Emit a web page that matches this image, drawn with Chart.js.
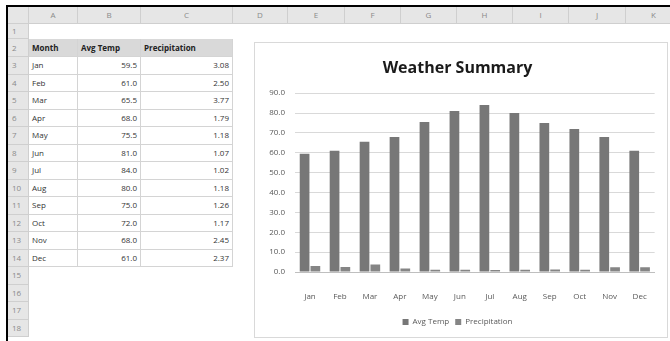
<!DOCTYPE html>
<html>
<head>
<meta charset="utf-8">
<script src="https://cdn.jsdelivr.net/npm/chart.js@4"></script>
<style>
  body { margin: 0; width: 670px; height: 341px; background: #fff; overflow: hidden; position: relative; font-family: "Open Sans", sans-serif; }
  .cell { position: absolute; box-sizing: border-box; font-size: 8px; line-height: 1; display: flex; align-items: center; white-space: nowrap; overflow: hidden; color: #333; }
  .hdr { background: #e6e6e6; color: #8a8a8a; border-right: 1px solid #cfcfcf; border-bottom: 1px solid #cfcfcf; justify-content: center; }
  .rowhdr { justify-content: flex-start; padding-left: 4px; }
  .tbl { border-right: 1px solid #d4d4d4; border-bottom: 1px solid #d4d4d4; padding: 0 3px; }
  .tbl.head { background: #d9d9d9; font-weight: bold; color: #222; }
  .num { justify-content: flex-end; }
  #frameTop { position: absolute; left: 6px; top: 5px; width: 664px; height: 2px; background: #000; }
  #frameLeft { position: absolute; left: 6px; top: 5px; width: 2px; height: 336px; background: #000; }
  #chartBox { position: absolute; left: 254px; top: 42px; width: 414px; height: 296px; box-sizing: border-box; border: 1px solid #d9d9d9; background: #fff; }
  #chartBox canvas { position: absolute; left: 0; top: 0; }
</style>
</head>
<body>
<div id="sheet"></div>
<div id="frameTop"></div>
<div id="frameLeft"></div>
<div id="chartBox"><canvas id="weatherChart" width="412" height="294"></canvas></div>
<script>
  // chart data
  const months = ['Jan', 'Feb', 'Mar', 'Apr', 'May', 'Jun', 'Jul', 'Aug', 'Sep', 'Oct', 'Nov', 'Dec'];
  const avgTemp = [59.5, 61.0, 65.5, 68.0, 75.5, 81.0, 84.0, 80.0, 75.0, 72.0, 68.0, 61.0];
  const precipitation = [3.08, 2.50, 3.77, 1.79, 1.18, 1.07, 1.02, 1.18, 1.26, 1.17, 2.45, 2.37];
  const yTicks = [0, 10, 20, 30, 40, 50, 60, 70, 80, 90];

  // spreadsheet grid
  const colEdges = [8, 29, 78, 141, 233, 288, 345, 401, 457, 513, 569, 626, 682];
  const colNames = ['', 'A', 'B', 'C', 'D', 'E', 'F', 'G', 'H', 'I', 'J', 'K'];
  const rowEdges = [7, 24, 39, 57];
  for (let i = 0; i < 16; i++) rowEdges.push(57 + 17.5 * (i + 1));

  const sheet = document.getElementById('sheet');
  function addCell(x0, x1, y0, y1, cls, text) {
    const d = document.createElement('div');
    d.className = 'cell ' + cls;
    d.style.left = x0 + 'px';
    d.style.top = y0 + 'px';
    d.style.width = (x1 - x0) + 'px';
    d.style.height = (y1 - y0) + 'px';
    d.textContent = text;
    sheet.appendChild(d);
  }

  // column headers
  for (let c = 0; c < colNames.length; c++) {
    addCell(colEdges[c], colEdges[c + 1], rowEdges[0], rowEdges[1], 'hdr', colNames[c]);
  }
  // row headers
  for (let r = 1; r < rowEdges.length - 1; r++) {
    addCell(colEdges[0], colEdges[1], rowEdges[r], rowEdges[r + 1], 'hdr rowhdr', String(r));
  }

  // data table A2:C14
  const heads = ['Month', 'Avg Temp', 'Precipitation'];
  heads.forEach((h, c) => addCell(colEdges[c + 1], colEdges[c + 2], rowEdges[2], rowEdges[3], 'tbl head', h));
  months.forEach((m, i) => {
    const y0 = rowEdges[i + 3], y1 = rowEdges[i + 4];
    addCell(colEdges[1], colEdges[2], y0, y1, 'tbl', m);
    addCell(colEdges[2], colEdges[3], y0, y1, 'tbl num', avgTemp[i].toFixed(1));
    addCell(colEdges[3], colEdges[4], y0, y1, 'tbl num', precipitation[i].toFixed(2));
  });

  // chart
  const ctx = document.getElementById('weatherChart').getContext('2d');
  new Chart(ctx, {
    type: 'bar',
    data: {
      labels: months,
      datasets: [
        { label: 'Avg Temp', data: avgTemp, backgroundColor: '#777777', barPercentage: 0.9, categoryPercentage: 0.72 },
        { label: 'Precipitation', data: precipitation, backgroundColor: '#858585', barPercentage: 0.9, categoryPercentage: 0.72 }
      ]
    },
    options: {
      responsive: false,
      animation: false,
      layout: { padding: { top: 16, left: 0, right: 7, bottom: 1 } },
      plugins: {
        title: {
          display: true,
          text: 'Weather Summary',
          color: '#1a1a1a',
          font: { family: 'Open Sans', size: 16, weight: 'bold' },
          padding: { top: 0, bottom: 15 }
        },
        legend: {
          position: 'bottom',
          labels: {
            boxWidth: 6,
            boxHeight: 6,
            padding: 6,
            color: '#595959',
            font: { family: 'Open Sans', size: 8 }
          }
        },
        tooltip: { enabled: false }
      },
      scales: {
        x: {
          afterFit: (scale) => { scale.height = 40; },
          grid: { display: false, drawTicks: false },
          border: { color: '#bfbfbf' },
          ticks: { color: '#595959', padding: 20, font: { family: 'Open Sans', size: 8 } }
        },
        y: {
          min: 0,
          max: 90,
          afterBuildTicks: (scale) => { scale.ticks = yTicks.map(v => ({ value: v })); },
          afterFit: (scale) => { scale.width = 40; },
          grid: { color: '#d9d9d9', drawTicks: false },
          border: { display: false },
          ticks: {
            color: '#595959',
            padding: 10,
            font: { family: 'Open Sans', size: 8 },
            callback: (v) => Number(v).toFixed(1)
          }
        }
      }
    }
  });
</script>
</body>
</html>
